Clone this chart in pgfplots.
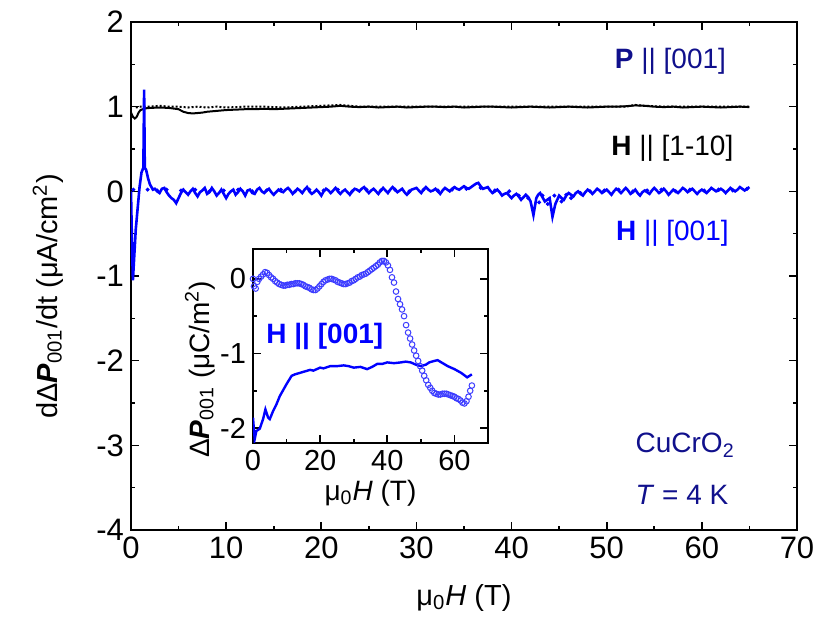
\documentclass[border=0pt]{standalone}
\usepackage{pgfplots}
\pgfplotsset{compat=1.18}
\usepackage{fontspec}
\setmainfont{Liberation Sans}
\definecolor{navy}{RGB}{16,16,140}
\definecolor{pblue}{RGB}{0,0,255}
\definecolor{cblue}{RGB}{60,60,255}

\pgfplotsset{
  figstyle/.style={
    scale only axis,
    axis line style={line width=1pt},
    tick style={line width=0.8pt, black},
    tick align=inside,
    major tick length=4pt,
    minor tick length=2pt,
    /pgf/number format/assume math mode=true,
    clip=true,
  }
}

\begin{document}
\begin{tikzpicture}
\useasboundingbox (-65.5pt,-53pt) rectangle (349.5pt,265pt);
\begin{axis}[figstyle,
  at={(0,0)}, anchor=south west,
  width=333pt, height=254pt,
  xmin=0, xmax=70, ymin=-4, ymax=2,
  xtick={0,10,...,70}, minor xtick={5,15,...,65},
  ytick={-4,-3,...,2}, minor ytick={-3.5,-2.5,...,1.5},
  tick label style={font=\fontsize{15.5}{17}\selectfont},
  xlabel={μ\textsubscript{0}\textit{H} (T)},
  ylabel={dΔ\textbf{\textit{P}}\textsubscript{001}/dt (μA/cm\textsuperscript{2})},
  label style={font=\fontsize{14.5}{17}\selectfont},
  xlabel style={at={([yshift=-34pt]axis description cs:0.5,0)}, anchor=center},
  ylabel style={at={([xshift=-41.5pt]axis description cs:0,0.46)}, anchor=center},
]
% black, H || [1-10]
\addplot[black, line width=1pt] coordinates {
(0,0.93) (0.2,0.88) (0.4,0.86) (0.6,0.88) (0.8,0.93) (1.0,0.96) (1.5,0.98) (2,0.985)
(3,0.99) (4,0.985) (5,0.97) (5.5,0.94) (6,0.925) (6.5,0.92) (7,0.925) (7.5,0.93)
(8,0.94) (9,0.95) (10,0.96) (11,0.965) (12,0.97) (13,0.97) (14,0.975) (15,0.97)
(16,0.975) (17,0.98) (18,0.985) (19,0.99) (20,0.995) (21,1.0) (22,1.01) (23,1.0)
(24,0.995) (25,1.0) (26,0.99) (27,0.995) (28,1.0) (29,0.99) (30,0.995) (31,1.0)
(32,1.0) (33,0.995) (34,1.0) (35,0.99) (36,0.995) (37,1.0) (38,1.0) (39,0.995)
(40,0.99) (41,0.995) (42,1.0) (43,0.995) (44,0.99) (45,0.995) (46,1.0) (47,0.995)
(48,0.99) (49,0.995) (50,1.0) (51,1.0) (52,1.005) (53,1.015) (54,1.01) (55,1.0)
(56,0.995) (57,1.0) (58,0.99) (59,0.995) (60,1.0) (61,0.995) (62,0.99) (63,0.995)
(64,1.0) (65,0.995)
};
\addplot[black, line width=1pt, densely dotted] coordinates {
(0.5,0.99) (1,1.0) (2,1.0) (3,1.01) (4,1.0) (5,1.0) (6,0.99) (7,1.0) (8,0.99)
(9,1.0) (10,0.99) (12,1.0) (14,1.0) (16,0.99) (18,1.0) (20,1.01) (22,1.02)
(24,1.0) (26,1.0) (28,1.0) (30,1.0) (32,1.0) (34,1.0) (36,1.0) (38,1.0)
(40,1.0) (42,1.0) (44,1.0) (46,1.0) (48,1.0) (50,1.0) (52,1.0) (53,1.02)
(54,1.01) (56,1.0) (58,1.0) (60,1.0) (62,1.0) (64,1.0) (65,1.0)
};
% blue, H || [001]
\addplot[pblue, line width=1.3pt] coordinates {
(0.0,0.0) (0.1,-0.6) (0.2,-1.05) (0.35,-0.75) (0.5,-0.45) (0.7,-0.2) (0.9,0.05)
(1.1,0.22) (1.3,0.28) (1.38,1.2) (1.45,0.28) (1.6,0.25) (1.8,0.15) (2.0,0.08)
(2.3,0.02) (2.5,0.03) (2.75,0.0) (3,-0.02) (3.25,0.03) (3.5,0.04) (3.75,-0.01)
(4,-0.05) (4.25,-0.08) (4.5,-0.1) (4.75,-0.14) (5,-0.08) (5.25,-0.02) (5.5,0.02)
(5.75,-0.01) (6,-0.04) (6.25,0.0) (6.5,0.03) (6.75,-0.02) (7,-0.06) (7.25,-0.01)
(7.5,0.01) (7.75,0.04) (8,-0.03) (8.25,-0.01) (8.5,0.04) (8.75,0.0) (9,-0.05)
(9.25,-0.02) (9.5,0.02) (9.75,-0.03) (10,-0.08) (10.25,-0.03) (10.5,0.0) (10.75,0.02)
(11,-0.04) (11.25,-0.01) (11.5,0.03) (11.75,0.0) (12,-0.05) (12.25,0.01) (12.5,0.02)
(12.75,-0.02) (13,-0.03) (13.25,0.02) (13.5,0.04) (13.75,0.0) (14,-0.02) (14.25,0.01)
(14.5,0.03) (14.75,-0.01) (15,-0.04) (15.25,-0.01) (15.5,0.02) (15.75,0.0) (16,-0.01)
(16.25,0.02) (16.5,0.04) (16.75,0.01) (17,-0.03) (17.25,0.0) (17.5,0.03) (17.75,0.01)
(18,-0.02) (18.25,0.02) (18.5,0.05) (18.75,0.0) (19,-0.03) (19.25,-0.01) (19.5,0.02)
(19.75,-0.01) (20,-0.05) (20.25,0.0) (20.5,0.03) (20.75,0.01) (21,-0.02) (21.25,0.01)
(21.5,0.04) (21.75,0.0) (22,-0.03) (22.25,0.0) (22.5,0.02) (22.75,-0.01) (23,-0.04)
(23.25,0.0) (23.5,0.03) (23.75,0.02) (24,0.0) (24.25,0.03) (24.5,0.05) (24.75,0.01)
(25,-0.02) (25.25,0.01) (25.5,0.03) (25.75,0.0) (26,-0.03) (26.25,0.01) (26.5,0.04)
(26.75,0.01) (27,-0.02) (27.25,0.02) (27.5,0.05) (27.75,0.02) (28,-0.01) (28.25,0.01)
(28.5,0.03) (28.75,-0.01) (29,-0.04) (29.25,-0.01) (29.5,0.02) (29.75,0.03) (30,0.04)
(30.25,0.01) (30.5,-0.02) (30.75,0.02) (31,0.05) (31.25,0.02) (31.5,0.0) (31.75,0.01)
(32,0.03) (32.25,0.0) (32.5,-0.03) (32.75,0.01) (33,0.04) (33.25,0.02) (33.5,0.0)
(33.75,0.03) (34,0.05) (34.25,0.03) (34.5,0.02) (34.75,0.04) (35,0.06) (35.25,0.04)
(35.5,0.03) (35.75,0.05) (36,0.07) (36.25,0.09) (36.5,0.1) (36.75,0.06) (37,0.03)
(37.25,0.04) (37.5,0.05) (37.75,0.01) (38,-0.02) (38.25,0.0) (38.5,0.02) (38.75,-0.01)
(39,-0.05) (39.25,-0.03) (39.5,-0.02) (39.75,-0.05) (40,-0.08) (40.25,-0.05) (40.5,-0.03)
(40.75,-0.06) (41,-0.1) (41.25,-0.07) (41.5,-0.04) (41.75,-0.07) (42,-0.12) (42.3,-0.28)
(42.6,-0.08) (42.8,-0.04) (43,-0.02) (43.25,-0.07) (43.5,-0.12) (43.75,-0.1) (44,-0.08)
(44.3,-0.3) (44.6,-0.15) (44.8,-0.1) (45,-0.05) (45.25,-0.08) (45.5,-0.1) (45.75,-0.05)
(46,-0.02) (46.25,-0.04) (46.5,-0.06) (46.75,-0.02) (47,0.0) (47.25,-0.03) (47.5,-0.05)
(47.75,-0.01) (48,0.02) (48.25,0.0) (48.5,-0.03) (48.75,0.0) (49,0.03) (49.25,0.01)
(49.5,-0.02) (49.75,0.0) (50,0.02) (50.25,-0.01) (50.5,-0.04) (50.75,0.0) (51,0.03)
(51.25,0.01) (51.5,-0.02) (51.75,0.01) (52,0.04) (52.25,0.01) (52.5,-0.03) (52.75,-0.01)
(53,0.02) (53.25,-0.02) (53.5,-0.05) (53.75,-0.01) (54,0.01) (54.25,-0.01) (54.5,-0.03)
(54.75,0.01) (55,0.04) (55.25,0.01) (55.5,-0.02) (55.75,0.0) (56,0.03) (56.25,0.0)
(56.5,-0.04) (56.75,-0.01) (57,0.02) (57.25,0.0) (57.5,-0.02) (57.75,0.01) (58,0.04)
(58.25,0.02) (58.5,-0.01) (58.75,0.01) (59,0.03) (59.25,0.0) (59.5,-0.03) (59.75,0.0)
(60,0.02) (60.25,0.0) (60.5,-0.02) (60.75,0.01) (61,0.04) (61.25,0.02) (61.5,0.0)
(61.75,0.01) (62,0.03) (62.25,0.01) (62.5,-0.02) (62.75,0.01) (63,0.04) (63.25,0.02)
(63.5,0.0) (63.75,0.02) (64,0.05) (64.25,0.03) (64.5,0.01) (64.75,0.03) (65,0.05)
};
\addplot[pblue, only marks, mark=*, mark size=0.8pt] coordinates {
(0.25,0.02) (1.75,0.02) (2.75,0.01) (3.75,0.02) (5.25,0.01) (6.75,0.02) (8.25,0.0)
(9.75,0.01) (11.25,0.02) (12.75,0.0) (14.25,0.01) (15.75,0.02) (17.25,0.0)
(18.75,0.02) (20.25,0.01) (21.75,0.02) (23.25,0.0) (24.75,0.02) (26.25,0.01)
(27.75,0.02) (29.25,0.0) (30.75,0.02) (32.25,0.01) (33.75,0.02) (35.25,0.03)
(36.75,0.04) (38.25,0.01) (39.75,0.0) (40.75,-0.05) (41.75,-0.08) (42.9,-0.13)
(43.25,-0.05) (43.8,-0.15) (44.5,-0.05) (45.25,-0.12) (45.75,-0.04) (46.25,-0.08)
(47.25,-0.02) (48.25,0.0) (49.75,0.01) (51.25,0.02) (52.75,0.0) (54.25,0.01)
(55.75,0.02) (57.25,0.0) (58.75,0.02) (60.25,0.01) (61.75,0.02) (63.25,0.01)
(64.75,0.03)
};
\node[navy, font=\fontsize{14}{16}\selectfont] at (axis cs:56.7,1.53) {\textbf{P} || [001]};
\node[black, font=\fontsize{14}{16}\selectfont] at (axis cs:56.9,0.51) {\textbf{H} || [1-10]};
\node[pblue, font=\fontsize{14}{16}\selectfont] at (axis cs:56.9,-0.5) {\textbf{H} || [001]};
\node[navy, anchor=west, font=\fontsize{14}{16}\selectfont] at (axis cs:52.3,-3.0) {CuCrO\textsubscript{2}};
\node[navy, anchor=west, font=\fontsize{14}{16}\selectfont] at (axis cs:52.3,-3.58) {\textit{T} = 4 K};
\end{axis}

\begin{axis}[figstyle,
  at={(61pt,43.5pt)}, anchor=south west,
  width=117.5pt, height=97pt,
  xmin=0, xmax=70, ymin=-2.2, ymax=0.4,
  xtick={0,20,40,60}, minor xtick={10,30,50},
  ytick={-2,-1,0}, minor ytick={-1.5,-0.5},
  tick label style={font=\fontsize{14.5}{16}\selectfont},
  xlabel={μ\textsubscript{0}\textit{H} (T)},
  ylabel={Δ\textbf{\textit{P}}\textsubscript{001} (μC/m\textsuperscript{2})},
  label style={font=\fontsize{14}{16}\selectfont},
  xlabel style={at={([yshift=-25pt]axis description cs:0.5,0)}, anchor=center},
  ylabel style={at={([xshift=-26.5pt]axis description cs:0,0.38)}, anchor=center},
  axis background/.style={fill=white},
]
\addplot[cblue, only marks, mark=o, mark size=1.4pt, mark options={line width=0.5pt}] coordinates {
(0,0.0) (0.3,-0.1) (0.8,-0.13) (1.3,-0.04) (1.8,0.0) (2.4,0.03) (3.0,0.06)
(3.6,0.09) (4.2,0.08) (4.8,0.05) (5.4,0.02) (6.0,0.0) (6.6,-0.03) (7.2,-0.05)
(7.8,-0.07) (8.4,-0.08) (9.0,-0.09) (9.6,-0.09) (10.2,-0.08) (10.8,-0.08)
(11.4,-0.07) (12.0,-0.07) (12.6,-0.06) (13.2,-0.06) (13.8,-0.06) (14.4,-0.07)
(15.0,-0.08) (15.6,-0.1) (16.2,-0.11) (16.8,-0.12) (17.4,-0.14) (18.0,-0.15)
(18.6,-0.15) (19.2,-0.13) (19.8,-0.1) (20.4,-0.07) (21.0,-0.04) (21.6,-0.02)
(22.2,-0.01) (22.8,0.0) (23.4,0.0) (24.0,-0.01) (24.6,-0.02) (25.2,-0.04)
(25.8,-0.05) (26.4,-0.06) (27.0,-0.07) (27.6,-0.07) (28.2,-0.06) (28.8,-0.05)
(29.4,-0.03) (30.0,-0.02) (30.6,0.0) (31.2,0.02) (31.8,0.03) (32.4,0.05)
(33.0,0.06) (33.6,0.07) (34.2,0.09) (34.8,0.11) (35.4,0.13) (36.0,0.15)
(36.6,0.17) (37.2,0.19) (37.8,0.22) (38.4,0.24) (39.0,0.24) (39.6,0.22)
(40.2,0.18) (40.8,0.12) (41.4,0.02) (42.0,-0.05) (42.6,-0.17) (43.2,-0.27)
(43.8,-0.34) (44.4,-0.41) (45.0,-0.5) (45.6,-0.62) (46.2,-0.72) (46.8,-0.8)
(47.4,-0.88) (48.0,-0.96) (48.6,-1.03) (49.2,-1.1) (49.8,-1.17) (50.4,-1.23)
(51.0,-1.3) (51.6,-1.36) (52.2,-1.42) (52.8,-1.46) (53.4,-1.5) (54.0,-1.53)
(54.6,-1.54) (55.2,-1.55) (55.8,-1.55) (56.4,-1.54) (57.0,-1.54) (57.6,-1.54)
(58.2,-1.55) (58.8,-1.56) (59.4,-1.57) (60.0,-1.58) (60.6,-1.6) (61.2,-1.61)
(61.8,-1.63) (62.4,-1.66) (63.0,-1.67) (63.6,-1.64) (64.2,-1.58) (64.7,-1.5)
(65.2,-1.43)
};
\addplot[pblue, line width=1.2pt] coordinates {
(0,-1.86) (0.5,-2.15) (1,-2.04) (2,-2.01) (3,-1.88) (3.7,-1.75) (4.5,-1.86)
(5,-1.88) (6,-1.77) (7,-1.68) (8,-1.57) (9,-1.49) (10,-1.41) (11.5,-1.30)
(12.5,-1.28) (14,-1.26) (15.5,-1.24) (17,-1.22) (18,-1.23) (19,-1.21) (20,-1.19)
(21,-1.2) (23,-1.17) (25,-1.17) (27,-1.16) (28.5,-1.17) (30,-1.19) (32,-1.18)
(34,-1.21) (35.5,-1.18) (37,-1.14) (38.5,-1.14) (40,-1.12) (42,-1.13) (44,-1.12)
(45.5,-1.11) (47,-1.12) (48.5,-1.15) (50,-1.17) (51.5,-1.15) (52.5,-1.12)
(54,-1.1) (55,-1.09) (56.5,-1.13) (58,-1.17) (60,-1.21) (62,-1.26) (63.8,-1.32)
(65.2,-1.28)
};
\node[pblue, font=\bfseries\fontsize{14}{16}\selectfont] at (axis cs:21.4,-0.77) {H || [001]};
\end{axis}
\end{tikzpicture}
\end{document}
